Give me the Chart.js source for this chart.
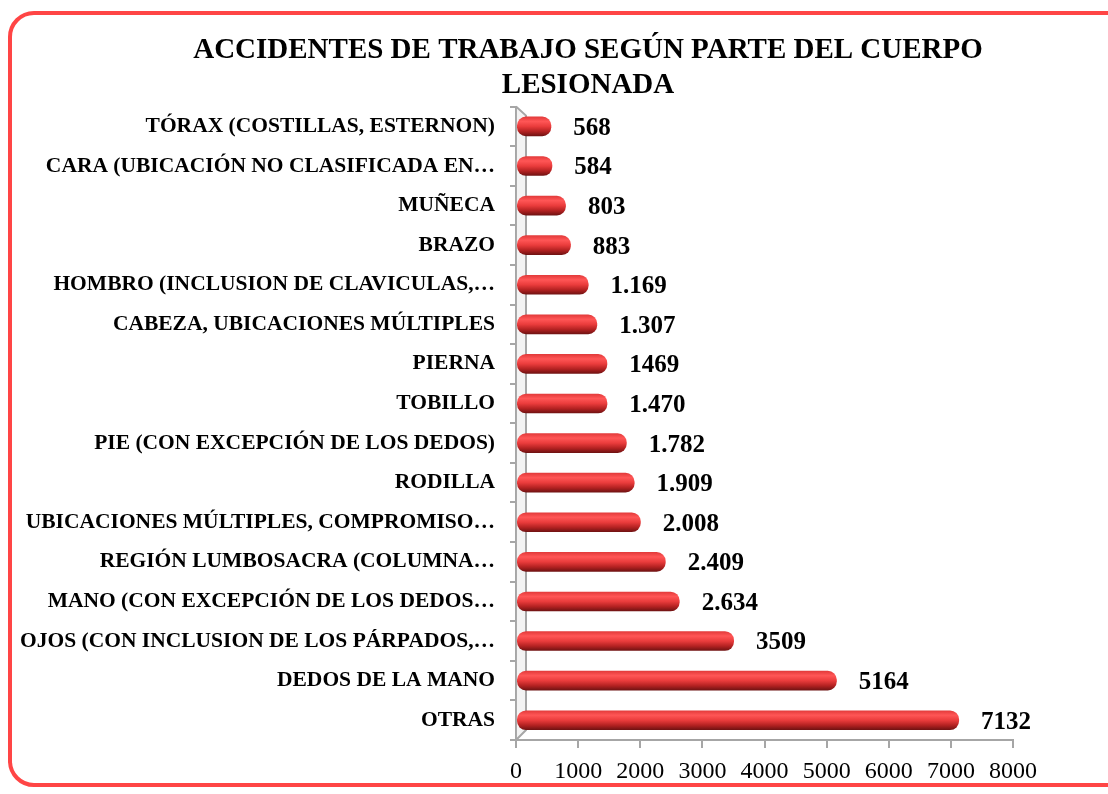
<!DOCTYPE html>
<html>
<head>
<meta charset="utf-8">
<script src="https://cdn.jsdelivr.net/npm/chart.js@4/dist/chart.umd.min.js"></script>
<style>
  html, body { margin: 0; padding: 0; background: #fff; overflow: hidden; width: 1108px; height: 794px; }
  #frame {
    position: absolute; left: 8px; top: 11px; width: 1160px; height: 776px;
    border: 4px solid #ff4545; border-radius: 26px; box-sizing: border-box;
  }
  #chart { position: absolute; left: 0; top: 0; }
</style>
</head>
<body>
<div id="frame"></div>
<canvas id="chart" width="1108" height="794"></canvas>
<script>
// data (top to bottom)
const parts = [
    'TÓRAX (COSTILLAS, ESTERNON)',
    'CARA (UBICACIÓN NO CLASIFICADA EN…',
    'MUÑECA',
    'BRAZO',
    'HOMBRO (INCLUSION DE CLAVICULAS,…',
    'CABEZA, UBICACIONES MÚLTIPLES',
    'PIERNA',
    'TOBILLO',
    'PIE (CON EXCEPCIÓN DE LOS DEDOS)',
    'RODILLA',
    'UBICACIONES MÚLTIPLES, COMPROMISO…',
    'REGIÓN LUMBOSACRA (COLUMNA…',
    'MANO (CON EXCEPCIÓN DE LOS DEDOS…',
    'OJOS (CON INCLUSION DE LOS PÁRPADOS,…',
    'DEDOS DE LA MANO',
    'OTRAS'
];
const accidents = [568, 584, 803, 883, 1169, 1307, 1469, 1470, 1782, 1909, 2008, 2409, 2634, 3509, 5164, 7132];
// value labels as printed on the chart
const accidentLabels = ['568', '584', '803', '883', '1.169', '1.307', '1469', '1.470', '1.782', '1.909', '2.008', '2.409', '2.634', '3509', '5164', '7132'];

const titleLines = ['ACCIDENTES DE TRABAJO SEGÚN PARTE DEL CUERPO', 'LESIONADA'];
const serif = "'Liberation Serif', 'Times New Roman', serif";
const axisGray = '#a6a6a6';

// cylinder-ish shading for each bar
function barGradient(c) {
    const chart = c.chart;
    if (!chart.chartArea || c.dataIndex === undefined) return '#e63434';
    const y = chart.scales.y.getPixelForValue(c.dataIndex);
    const g = chart.ctx.createLinearGradient(0, y - 10, 0, y + 10);
    g.addColorStop(0, '#e03838');
    g.addColorStop(0.25, '#ff5656');
    g.addColorStop(0.5, '#ea3c3c');
    g.addColorStop(0.75, '#b42222');
    g.addColorStop(1, '#6b1111');
    return g;
}

// the frame runs off the right edge, so centre the title on the frame, not the canvas
const titleCentre = {
    id: 'titleCentre',
    afterLayout(chart) {
        const tb = chart.titleBlock;
        if (tb) { tb.left = 8; tb.right = 1168; }
    }
};

// the grey side wall of the 3D frame
const wallPlugin = {
    id: 'wall',
    beforeDatasetsDraw(chart) {
        const { ctx, chartArea: a } = chart;
        ctx.save();
        ctx.fillStyle = 'rgba(190,190,190,0.18)';
        ctx.beginPath();
        ctx.moveTo(a.left, a.top);
        ctx.lineTo(a.left + 10, a.top + 9);
        ctx.lineTo(a.left + 10, a.bottom - 10);
        ctx.lineTo(a.left, a.bottom);
        ctx.closePath();
        ctx.fill();
        ctx.strokeStyle = axisGray;
        ctx.lineWidth = 2;
        ctx.beginPath();
        ctx.moveTo(a.left, a.top);
        ctx.lineTo(a.left + 10, a.top + 9);
        ctx.lineTo(a.left + 10, a.bottom - 10);
        ctx.lineTo(a.left, a.bottom);
        ctx.stroke();
        ctx.restore();
    }
};

// value labels at the end of every bar
const valueLabelPlugin = {
    id: 'valueLabels',
    afterDatasetsDraw(chart) {
        const ctx = chart.ctx;
        const meta = chart.getDatasetMeta(0);
        ctx.save();
        ctx.font = 'bold 25px ' + serif;
        ctx.fillStyle = '#000';
        ctx.textAlign = 'left';
        ctx.textBaseline = 'middle';
        meta.data.forEach((bar, i) => {
            ctx.fillText(accidentLabels[i], bar.x + 22, bar.y + 2);
        });
        ctx.restore();
    }
};

new Chart(document.getElementById('chart').getContext('2d'), {
    type: 'bar',
    data: {
        labels: parts,
        datasets: [{
            data: accidents,
            backgroundColor: barGradient,
            borderWidth: 0,
            borderRadius: 9,
            borderSkipped: false,
            barPercentage: 0.62,
            categoryPercentage: 0.8
        }]
    },
    options: {
        indexAxis: 'y',
        responsive: false,
        animation: false,
        layout: { padding: { top: 12, right: 95, bottom: 0, left: 0 } },
        plugins: {
            legend: { display: false },
            tooltip: { enabled: false },
            title: {
                display: true,
                text: titleLines,
                color: '#000',
                font: { family: serif, size: 29, weight: 'bold', lineHeight: 1.2 },
                padding: { top: 21, bottom: 4 }
            }
        },
        scales: {
            x: {
                min: 0,
                max: 8000,
                ticks: {
                    stepSize: 1000,
                    color: '#000',
                    font: { family: serif, size: 24 },
                    padding: 9,
                    maxRotation: 0,
                    callback: (v) => String(v)
                },
                grid: { drawOnChartArea: false, tickLength: 8, color: axisGray, lineWidth: 2 },
                border: { color: axisGray, width: 2 },
                afterFit(scale) { scale.height = 54; }
            },
            y: {
                ticks: {
                    color: '#000',
                    font: { family: serif, size: 21.5, weight: 'bold' },
                    padding: 15,
                    autoSkip: false
                },
                grid: { drawOnChartArea: false, tickLength: 6, color: axisGray, lineWidth: 2 },
                border: { color: axisGray, width: 2 },
                afterFit(scale) { scale.width = 516; }
            }
        }
    },
    plugins: [titleCentre, wallPlugin, valueLabelPlugin]
});
</script>
</body>
</html>
